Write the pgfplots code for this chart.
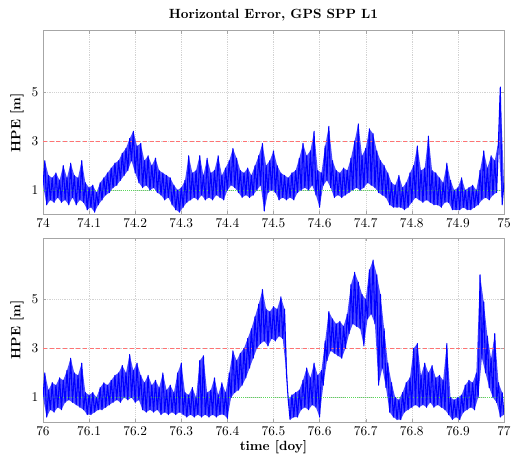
\documentclass[border=0pt]{standalone}
\usepackage{pgfplots}
\pgfplotsset{compat=1.18}
\usepackage{pgfplotstable}
\usepgfplotslibrary{fillbetween}

\pgfplotstableread{
x y
74.000 1.2
74.004 2.2
74.008 0.4
74.012 1.6
74.016 0.6
74.020 1.5
74.024 0.5
74.028 1.7
74.032 0.7
74.036 1.4
74.040 0.5
74.044 2.0
74.048 0.6
74.052 1.5
74.056 0.4
74.060 2.1
74.064 0.7
74.068 1.6
74.072 0.4
74.076 1.5
74.080 0.6
74.084 2.2
74.088 0.5
74.092 1.3
74.096 0.2
74.100 1.1
74.104 0.3
74.108 1.2
74.112 0.1
74.116 0.9
74.120 0.4
74.124 1.3
74.128 0.6
74.132 1.5
74.136 0.8
74.140 1.7
74.144 0.9
74.148 1.9
74.152 1.1
74.156 2.1
74.160 1.2
74.164 2.2
74.168 1.4
74.172 2.5
74.176 1.6
74.180 2.7
74.184 1.8
74.188 3.1
74.192 2.2
74.196 3.4
74.200 1.7
74.204 2.8
74.208 1.3
74.212 2.9
74.216 1.1
74.220 2.2
74.224 1.2
74.228 2.4
74.232 1.0
74.236 2.0
74.240 1.1
74.244 2.3
74.248 0.9
74.252 1.8
74.256 0.8
74.260 1.7
74.264 0.6
74.268 1.6
74.272 0.7
74.276 1.5
74.280 0.4
74.284 1.2
74.288 0.2
74.292 1.0
74.296 0.1
74.300 1.1
74.304 0.3
74.308 1.4
74.312 0.5
74.316 2.4
74.320 0.6
74.324 1.7
74.328 0.7
74.332 1.8
74.336 0.6
74.340 2.4
74.344 0.8
74.348 1.6
74.352 0.6
74.356 2.3
74.360 0.7
74.364 1.7
74.368 0.6
74.372 1.8
74.376 0.8
74.380 2.4
74.384 0.7
74.388 1.6
74.392 0.6
74.396 1.9
74.400 1.0
74.404 2.2
74.408 1.2
74.412 2.7
74.416 1.1
74.420 2.3
74.424 0.9
74.428 1.8
74.432 0.7
74.436 1.7
74.440 0.8
74.444 1.9
74.448 0.7
74.452 1.6
74.456 0.8
74.460 2.0
74.464 1.0
74.468 2.4
74.472 1.2
74.476 2.9
74.480 0.15
74.484 2.0
74.488 0.9
74.492 2.2
74.496 1.0
74.500 2.6
74.504 0.9
74.508 2.0
74.512 0.6
74.516 1.7
74.520 0.7
74.524 1.6
74.528 0.6
74.532 1.5
74.536 0.7
74.540 1.7
74.544 0.6
74.548 1.8
74.552 0.9
74.556 2.3
74.560 1.0
74.564 2.9
74.568 1.1
74.572 2.4
74.576 1.0
74.580 2.6
74.584 1.2
74.588 3.4
74.592 0.8
74.596 1.8
74.600 0.3
74.604 1.7
74.608 1.2
74.612 2.8
74.616 1.4
74.620 3.6
74.624 1.1
74.628 2.2
74.632 0.7
74.636 1.8
74.640 0.8
74.644 1.7
74.648 0.7
74.652 1.9
74.656 0.8
74.660 1.8
74.664 0.9
74.668 2.3
74.672 1.0
74.676 3.0
74.680 1.1
74.684 3.7
74.688 1.0
74.692 2.4
74.696 1.1
74.700 2.7
74.704 1.3
74.708 3.5
74.712 1.2
74.716 3.3
74.720 1.1
74.724 2.6
74.728 0.9
74.732 2.2
74.736 0.8
74.740 2.0
74.744 0.7
74.748 1.7
74.752 0.4
74.756 1.3
74.760 0.3
74.764 1.2
74.768 0.3
74.772 1.6
74.776 0.3
74.780 1.1
74.784 0.2
74.788 1.3
74.792 0.3
74.796 1.7
74.800 0.5
74.804 2.0
74.808 0.7
74.812 2.8
74.816 0.6
74.820 1.8
74.824 0.5
74.828 1.9
74.832 0.6
74.836 3.2
74.840 0.5
74.844 1.8
74.848 0.4
74.852 1.7
74.856 0.4
74.860 1.5
74.864 0.3
74.868 1.3
74.872 0.5
74.876 2.1
74.880 0.5
74.884 1.4
74.888 0.2
74.892 1.0
74.896 0.2
74.900 1.1
74.904 0.2
74.908 1.5
74.912 0.3
74.916 1.0
74.920 0.2
74.924 1.1
74.928 0.2
74.932 1.2
74.936 0.3
74.940 1.0
74.944 0.4
74.948 1.8
74.952 0.6
74.956 2.6
74.960 0.7
74.964 1.9
74.968 0.6
74.972 2.4
74.976 0.8
74.980 2.2
74.984 0.9
74.988 3.0
74.992 5.2
74.996 0.4
75.000 1.3
}\dayA

\pgfplotstableread{
x y
76.000 1.0
76.004 2.0
76.008 0.2
76.012 1.3
76.016 0.5
76.020 1.6
76.024 0.4
76.028 1.5
76.032 0.6
76.036 1.8
76.040 0.5
76.044 1.7
76.048 0.8
76.052 2.1
76.056 0.9
76.060 2.6
76.064 0.8
76.068 2.0
76.072 0.7
76.076 1.9
76.080 0.6
76.084 2.4
76.088 0.5
76.092 1.2
76.096 0.3
76.100 1.1
76.104 0.3
76.108 1.2
76.112 0.4
76.116 1.0
76.120 0.5
76.124 1.4
76.128 0.5
76.132 1.6
76.136 0.6
76.140 1.5
76.144 0.7
76.148 1.7
76.152 0.8
76.156 1.9
76.160 0.9
76.164 2.0
76.168 0.8
76.172 2.3
76.176 1.0
76.180 2.0
76.184 0.9
76.188 2.75
76.192 1.0
76.196 2.1
76.200 0.8
76.204 2.4
76.208 0.9
76.212 1.9
76.216 0.5
76.220 1.6
76.224 0.4
76.228 1.9
76.232 0.5
76.236 1.5
76.240 0.4
76.244 1.7
76.248 0.5
76.252 1.4
76.256 0.3
76.260 2.0
76.264 0.4
76.268 1.3
76.272 0.3
76.276 1.5
76.280 0.4
76.284 1.2
76.288 0.3
76.292 2.0
76.296 0.4
76.300 2.4
76.304 0.3
76.308 1.2
76.312 0.2
76.316 1.1
76.320 0.3
76.324 1.4
76.328 0.2
76.332 1.0
76.336 0.3
76.340 2.5
76.344 0.2
76.348 2.7
76.352 0.3
76.356 1.2
76.360 0.2
76.364 1.3
76.368 0.3
76.372 1.8
76.376 0.2
76.380 1.1
76.384 0.3
76.388 1.6
76.392 0.3
76.396 1.2
76.400 0.15
76.404 2.0
76.408 1.0
76.412 2.9
76.416 1.2
76.420 2.5
76.424 1.3
76.428 2.8
76.432 1.5
76.436 3.0
76.440 1.8
76.444 3.4
76.448 2.2
76.452 3.8
76.456 2.6
76.460 4.3
76.464 3.0
76.468 4.8
76.472 3.2
76.476 5.4
76.480 3.3
76.484 4.6
76.488 3.1
76.492 4.5
76.496 3.4
76.500 4.7
76.504 3.3
76.508 4.6
76.512 3.5
76.516 5.1
76.520 3.4
76.524 4.6
76.528 2.0
76.532 0.9
76.536 0.1
76.540 1.1
76.544 0.2
76.548 1.2
76.552 0.2
76.556 1.3
76.560 0.5
76.564 1.7
76.568 0.6
76.572 2.2
76.576 0.5
76.580 1.8
76.584 0.7
76.588 2.4
76.592 0.6
76.596 1.9
76.600 0.2
76.604 2.1
76.608 1.5
76.612 3.3
76.616 2.5
76.620 4.5
76.624 2.9
76.628 4.2
76.632 2.8
76.636 4.0
76.640 2.7
76.644 4.1
76.648 2.6
76.652 3.9
76.656 3.0
76.660 4.4
76.664 3.6
76.668 5.6
76.672 4.0
76.676 6.1
76.680 3.9
76.684 5.7
76.688 3.8
76.692 5.2
76.696 3.1
76.700 5.0
76.704 4.2
76.708 6.2
76.712 4.4
76.716 6.6
76.720 4.0
76.724 6.0
76.728 1.5
76.732 5.2
76.736 2.2
76.740 3.8
76.744 1.4
76.748 2.4
76.752 0.4
76.756 1.6
76.760 0.2
76.764 1.0
76.768 0.1
76.772 0.9
76.776 0.1
76.780 1.2
76.784 0.4
76.788 1.6
76.792 0.5
76.796 1.8
76.800 0.6
76.804 3.0
76.808 0.7
76.812 3.2
76.816 0.6
76.820 1.9
76.824 0.7
76.828 2.4
76.832 0.6
76.836 2.0
76.840 0.8
76.844 2.3
76.848 0.6
76.852 1.8
76.856 0.7
76.860 1.9
76.864 0.6
76.868 1.7
76.872 0.5
76.876 3.2
76.880 0.3
76.884 1.0
76.888 0.1
76.892 0.9
76.896 0.2
76.900 1.0
76.904 0.1
76.908 1.1
76.912 0.4
76.916 1.5
76.920 0.5
76.924 1.7
76.928 0.6
76.932 1.6
76.936 0.5
76.940 2.0
76.944 1.0
76.948 6.0
76.952 2.6
76.956 4.9
76.960 2.0
76.964 3.5
76.968 1.4
76.972 2.6
76.976 1.0
76.980 3.6
76.984 0.8
76.988 1.6
76.992 0.2
76.996 1.2
77.000 0.3
}\dayB

\definecolor{refline}{rgb}{1,0.45,0.45}
\definecolor{grnline}{rgb}{0.35,0.85,0.35}
\definecolor{bandfill}{rgb}{0.3,0.3,1}

\pgfplotsset{
  hpe/.style={
    scale only axis,
    width=345.75pt, height=138pt,
    ymin=0, ymax=7.5,
    ytick={1,3,5},
    xtick distance=0.1,
    scaled x ticks=false,
    xticklabel style={/pgf/number format/fixed, /pgf/number format/precision=1},
    grid=major,
    major grid style={gray!35, densely dotted, line width=0.3pt},
    axis line style={gray!70},
    tick style={gray!70},
    major tick length=2.5pt,
    tick align=inside,
    ylabel={\textbf{HPE [m]}},
    ylabel style={yshift=-1pt},
    clip=true,
  },
  lows/.style={draw=none, forget plot,
    x filter/.code={\ifodd\coordindex\def\pgfmathresult{}\fi}},
  highs/.style={draw=none, forget plot,
    x filter/.code={\ifodd\coordindex\else\def\pgfmathresult{}\fi}},
  core/.style={blue, line width=0.8pt, line join=round},
}

\begin{document}
\begin{tikzpicture}
\begin{axis}[hpe, at={(0pt,0pt)}, anchor=north west, xmin=74, xmax=75,
  title={\textbf{Horizontal Error, GPS SPP L1}},
  title style={yshift=-2pt}]
\addplot[grnline, densely dotted, line width=0.5pt] coordinates {(74,1) (75,1)};
\addplot[refline, densely dashed, line width=0.5pt] coordinates {(74,3) (75,3)};
\addplot[lows, name path=loA] table[x=x, y=y] {\dayA};
\addplot[highs, name path=hiA] table[x=x, y=y] {\dayA};
\addplot[bandfill] fill between[of=loA and hiA];
\addplot[core] table[x=x, y=y] {\dayA};
\end{axis}
\begin{axis}[hpe, at={(0pt,-155.5pt)}, anchor=north west,
  xmin=76, xmax=77,
  xlabel={\textbf{time [doy]}},
  xlabel style={yshift=3pt}]
\addplot[grnline, densely dotted, line width=0.5pt] coordinates {(76,1) (77,1)};
\addplot[refline, densely dashed, line width=0.5pt] coordinates {(76,3) (77,3)};
\addplot[lows, name path=loB] table[x=x, y=y] {\dayB};
\addplot[highs, name path=hiB] table[x=x, y=y] {\dayB};
\addplot[bandfill] fill between[of=loB and hiB];
\addplot[core] table[x=x, y=y] {\dayB};
\end{axis}
\pgfresetboundingbox
\path (-32.25pt,23pt) rectangle (351pt,-317.3pt);
\end{tikzpicture}
\end{document}
